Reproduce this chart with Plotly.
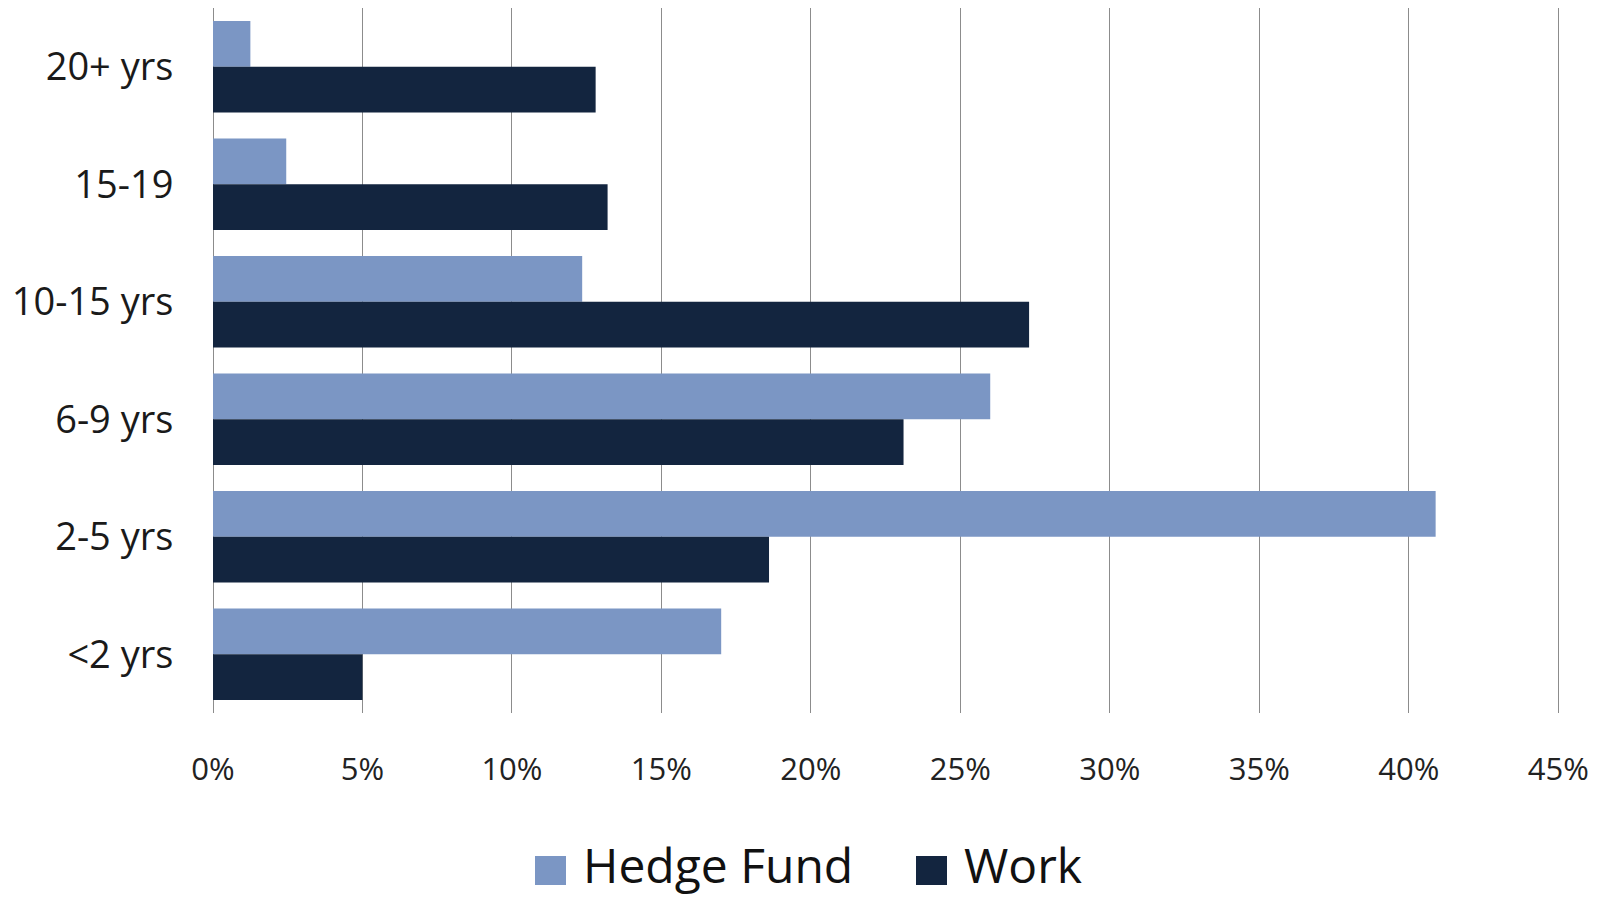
import plotly.graph_objects as go

HEDGE = '#7b96c4'
WORK = '#13253f'
GRID = '#8c8c8c'
FONT = 'Open Sans'

categories = ['20+ yrs', '15-19', '10-15 yrs', '6-9 yrs', '2-5 yrs', '<2 yrs']
hedge_fund = [1.25, 2.45, 12.35, 26.0, 40.9, 17.0]
work = [12.8, 13.2, 27.3, 23.1, 18.6, 5.0]
x_ticks = list(range(0, 50, 5))
x_labels = [f'{v}%' for v in x_ticks]

fig = go.Figure()
fig.add_bar(y=categories, x=hedge_fund, name='Hedge Fund', orientation='h',
            marker=dict(color=HEDGE, line=dict(width=0)))
fig.add_bar(y=categories, x=work, name='Work', orientation='h',
            marker=dict(color=WORK, line=dict(width=0)))

# page body has an 8px margin, so the figure is 8px smaller each way
fig.update_layout(
    width=1600, height=892,
    margin=dict(l=205, r=48, t=0, b=187),
    plot_bgcolor='white', paper_bgcolor='white',
    barmode='group', bargap=0.22, bargroupgap=0,
    showlegend=False,
    font=dict(family=FONT, color='#222222'),
)
fig.update_xaxes(
    range=[0, 45.06], tickvals=x_ticks, ticktext=x_labels,
    showgrid=True, gridcolor=GRID, gridwidth=1,
    zeroline=True, zerolinecolor=GRID, zerolinewidth=1,
    ticks='outside', ticklen=29, tickcolor='rgba(0,0,0,0)',
    tickfont=dict(size=31, family=FONT, color='#222222'),
    showline=False, automargin=False,
)
fig.update_yaxes(
    autorange='reversed', showgrid=False, zeroline=False,
    ticks='outside', ticklen=31, tickcolor='rgba(0,0,0,0)',
    tickfont=dict(size=38, family=FONT, color='#1a1a1a'),
    automargin=False,
)

# legend drawn by hand so the swatches can match the large squares
def px_x(p):
    return (p - 213) / 1347


def px_y(p):
    return (713 - p) / 705


for name, color, sx, tx in [('Hedge Fund', HEDGE, 535, 581), ('Work', WORK, 916, 962)]:
    fig.add_shape(type='rect', xref='paper', yref='paper',
                  x0=px_x(sx), x1=px_x(sx + 31), y0=px_y(885), y1=px_y(856),
                  fillcolor=color, line=dict(width=0))
    fig.add_annotation(text=name, xref='paper', yref='paper', x=px_x(tx), y=px_y(864),
                       xanchor='left', yanchor='middle', showarrow=False,
                       font=dict(size=48, family=FONT, color='#111111'))

fig.write_html('out.html')
